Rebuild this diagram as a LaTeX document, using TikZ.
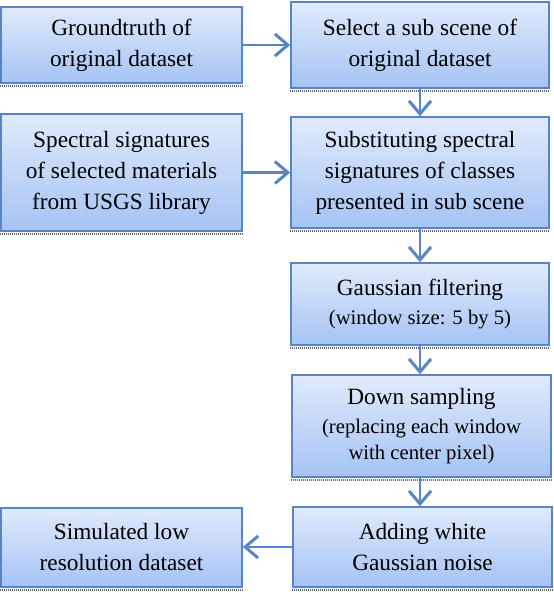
\documentclass[tikz,border=0pt]{standalone}
\usepackage{fontspec}
\setmainfont{Liberation Serif}
\usetikzlibrary{arrows.meta}
\definecolor{boxtop}{HTML}{E0EAFC}
\definecolor{boxbot}{HTML}{A5C3F4}
\definecolor{boxedge}{HTML}{5785C6}
\tikzset{
  flowbox/.style={rectangle, draw=boxedge, line width=1.6pt, top color=boxtop, bottom color=boxbot,
    align=center, inner sep=2pt, font=\fontsize{23.3}{31}\selectfont},
  flowarrow/.style={draw=boxedge, line width=2.2pt, -{Straight Barb[length=13pt,width=22pt,line width=3pt]}},
  shadowline/.style={draw=black!60, line width=2pt, dash pattern=on 1pt off 1pt}
}
\newcommand{\smalltxt}{\fontsize{20.7}{24}\selectfont}
\begin{document}
\begin{tikzpicture}[x=1pt,y=-1pt]
\useasboundingbox (0,0) rectangle (554,592);
% left column
\node[flowbox, minimum width=241pt, minimum height=76pt] (b1) at (121.5,45) {Groundtruth of\\original dataset};
\node[flowbox, minimum width=241pt, minimum height=117pt] (b3) at (121.5,172.5) {Spectral signatures\\of selected materials\\from USGS library};
\node[flowbox, minimum width=241pt, minimum height=79pt] (b8) at (121.5,547.5) {Simulated low\\resolution dataset};
% right column
\node[flowbox, minimum width=258pt, minimum height=86pt] (b2) at (420,45) {Select a sub scene of\\original dataset};
\node[flowbox, minimum width=258pt, minimum height=111pt] (b4) at (420,172.5) {Substituting spectral\\signatures of classes\\presented in sub scene};
\node[flowbox, minimum width=258pt, minimum height=82pt] (b5) at (420,304) {Gaussian filtering\\[-2pt]\smalltxt (window size: 5 by 5)};
\node[flowbox, minimum width=259pt, minimum height=102pt] (b6) at (421.5,426) {Down sampling\\[-2pt]\smalltxt (replacing each window\\[-4.5pt]\smalltxt with center pixel)};
\node[flowbox, minimum width=259pt, minimum height=80pt] (b7) at (422.5,547) {Adding white\\Gaussian noise};
% shadows
\foreach \n in {b1,b2,b3,b4,b5,b6,b7,b8}
  \draw[shadowline] ([yshift=-2.2pt]\n.south west) -- ([yshift=-2.2pt]\n.south east);
% arrows
\draw[flowarrow] (b1.east) -- (b1.east -| b2.west);
\draw[flowarrow] (b3.east) -- (b3.east -| b4.west);
\draw[flowarrow] (b2.south) -- (b4.north);
\draw[flowarrow] (b4.south) -- (b5.north);
\draw[flowarrow] (b5.south) -- (b5.south |- b6.north);
\draw[flowarrow] (b6.south -| b5.south) -- (b5.south |- b7.north);
\draw[flowarrow] (b7.west) -- (b7.west -| b8.east);
\end{tikzpicture}
\end{document}
